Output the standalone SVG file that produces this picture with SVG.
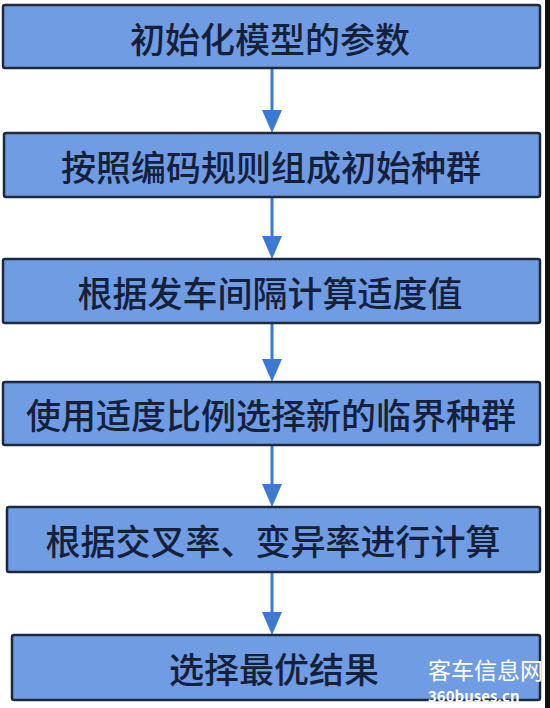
<svg xmlns="http://www.w3.org/2000/svg" width="550" height="708" viewBox="0 0 550 708">
<defs>
<style>
.box{fill:#6f9ce2;stroke:#1e2a3c;stroke-width:2.5}
.lbl{font-family:"Noto Sans CJK SC","Noto Sans",sans-serif;font-size:35px;font-weight:500;fill:#15203a;text-anchor:middle;dominant-baseline:central}
.conn{stroke:#3a7ad2;stroke-width:3;fill:none}
.head{fill:#3a7ad2}
.wm{font-family:"Noto Sans CJK SC","Noto Sans",sans-serif;fill:#ffffff}
</style>
</defs>
<rect x="0" y="0" width="550" height="708" fill="#ffffff"/>
<g id="connectors">
<line class="conn" x1="272" y1="68" x2="272" y2="112"/>
<polygon class="head" points="262,110 282,110 272,133"/>
<line class="conn" x1="272" y1="197" x2="272" y2="238"/>
<polygon class="head" points="262,236 282,236 272,259"/>
<line class="conn" x1="272" y1="323" x2="272" y2="361"/>
<polygon class="head" points="262,359 282,359 272,382"/>
<line class="conn" x1="272" y1="445" x2="272" y2="486"/>
<polygon class="head" points="262,484 282,484 272,507"/>
<line class="conn" x1="272" y1="572" x2="272" y2="614"/>
<polygon class="head" points="262,612 282,612 272,635"/>
</g>
<g id="n1"><rect class="box" x="3" y="5" width="537" height="63" rx="2"/><text class="lbl" x="270" y="37">初始化模型的参数</text></g>
<g id="n2"><rect class="box" x="4" y="133" width="536" height="64" rx="2"/><text class="lbl" x="271" y="165">按照编码规则组成初始种群</text></g>
<g id="n3"><rect class="box" x="3" y="259" width="537" height="64" rx="2"/><text class="lbl" x="270" y="291">根据发车间隔计算适度值</text></g>
<g id="n4"><rect class="box" x="3" y="382" width="537" height="63" rx="2"/><text class="lbl" x="271" y="413">使用适度比例选择新的临界种群</text></g>
<g id="n5"><rect class="box" x="7" y="507" width="533" height="65" rx="2"/><text class="lbl" x="273" y="539">根据交叉率、变异率进行计算</text></g>
<g id="n6"><rect class="box" x="12" y="635" width="528" height="65" rx="2"/><text class="lbl" x="274" y="667">选择最优结果</text></g>
<g id="watermark">
<text class="wm" x="428" y="679" font-size="23">客车信息网</text>
<text class="wm" x="428" y="702" font-size="15" font-weight="bold" font-family="'DejaVu Sans',sans-serif">360buses.cn</text>
</g>
<rect x="545" y="0" width="5" height="708" fill="#111111"/>
</svg>
